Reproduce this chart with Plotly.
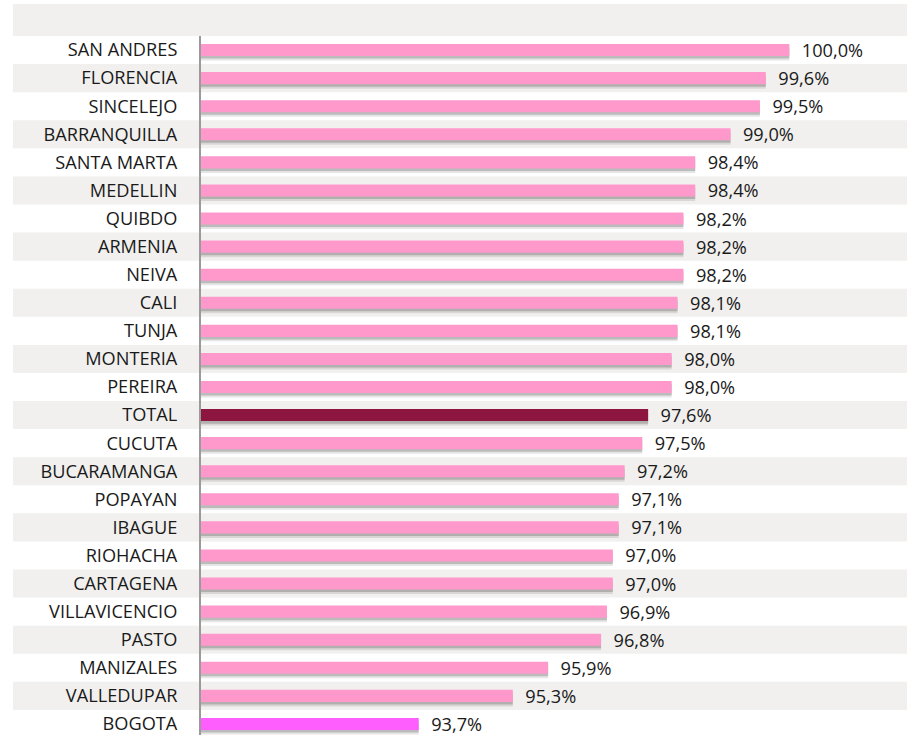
import plotly.graph_objects as go

cities = ["SAN ANDRES", "FLORENCIA", "SINCELEJO", "BARRANQUILLA", "SANTA MARTA",
          "MEDELLIN", "QUIBDO", "ARMENIA", "NEIVA", "CALI", "TUNJA", "MONTERIA",
          "PEREIRA", "TOTAL", "CUCUTA", "BUCARAMANGA", "POPAYAN", "IBAGUE",
          "RIOHACHA", "CARTAGENA", "VILLAVICENCIO", "PASTO", "MANIZALES",
          "VALLEDUPAR", "BOGOTA"]
values = [100.0, 99.6, 99.5, 99.0, 98.4, 98.4, 98.2, 98.2, 98.2, 98.1, 98.1, 98.0,
          98.0, 97.6, 97.5, 97.2, 97.1, 97.1, 97.0, 97.0, 96.9, 96.8, 95.9, 95.3, 93.7]

PINK = "#FF99CC"
TOTAL_C = "#8C1640"
BOGOTA_C = "#FF5EFF"
colors = [TOTAL_C if c == "TOTAL" else BOGOTA_C if c == "BOGOTA" else PINK for c in cities]

W, H = 907, 735
TOP = 36
ROW = 28.08
n = len(cities)
y_bottom = -0.5 + (H - TOP) / ROW
FONT = "Open Sans"
FS = 18.2

BW = 0.43
fig = go.Figure()
# soft shadows under the bars
for dy, a in [(0.16, 0.10), (0.09, 0.18)]:
    fig.add_trace(go.Bar(
        y=cities, x=values, orientation="h",
        width=BW, offset=-BW / 2 + dy,
        marker=dict(color=f"rgba(0,0,0,{a})", line=dict(width=0)),
        hoverinfo="skip", showlegend=False))
fig.add_trace(go.Bar(
    y=cities, x=values, orientation="h",
    width=BW, offset=-BW / 2,
    marker=dict(color=colors, line=dict(width=0)),
    text=values, texttemplate="\u00a0\u00a0%{x:.1f}%",
    textposition="outside", cliponaxis=False, constraintext="none",
    textfont=dict(family=FONT, size=FS, color="#1a1a1a"),
    showlegend=False))

shapes = []
STRIPE = "#F1F0EE"
plot_h = H - TOP
def py(px):
    return 1 - (px - TOP) / plot_h
x0p = (13 - 201) / (W - 201)
shapes.append(dict(type="rect", xref="paper", yref="paper", x0=x0p, x1=1,
                   y0=1, y1=py(4), fillcolor=STRIPE, line=dict(width=0), layer="below"))
for i in range(1, n, 2):
    t = TOP + i * ROW
    shapes.append(dict(type="rect", xref="paper", yref="paper", x0=x0p, x1=1,
                       y0=py(t + ROW), y1=py(t), fillcolor=STRIPE,
                       line=dict(width=0), layer="below"))

fig.update_layout(
    width=W, height=H,
    margin=dict(l=201, r=0, t=TOP, b=0),
    barmode="overlay",
    separators=",.",
    paper_bgcolor="white", plot_bgcolor="rgba(0,0,0,0)",
    shapes=shapes,
    font=dict(family=FONT, size=FS, color="#1a1a1a"),
    xaxis=dict(range=[90, 102], visible=False, showgrid=False, zeroline=False),
    yaxis=dict(range=[y_bottom, -0.5], showgrid=False, zeroline=False,
               showline=True, linecolor="#9a9a9a", linewidth=2,
               ticks="", ticklabelstandoff=18,
               tickfont=dict(family=FONT, size=FS, color="#1a1a1a")),
)
fig.write_html("out.html", config={"displayModeBar": False},
               post_script="document.body.style.margin='0';document.body.style.overflow='hidden';")
